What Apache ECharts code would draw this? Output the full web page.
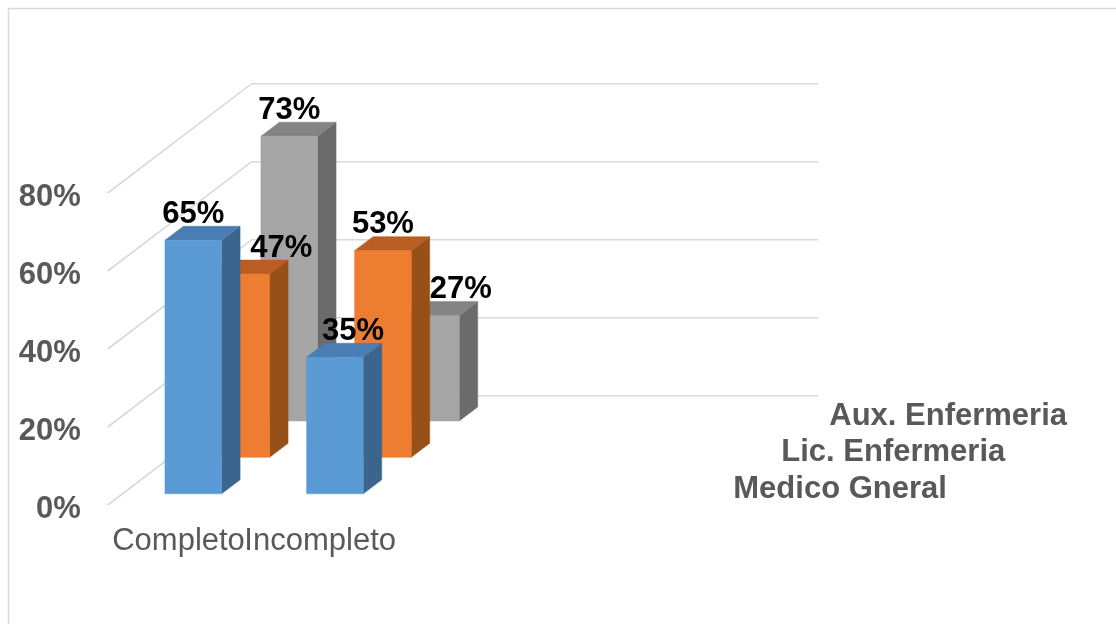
<!DOCTYPE html>
<html><head><meta charset="utf-8">
<script src="https://cdn.jsdelivr.net/npm/echarts@6/dist/echarts.min.js"></script>
<style>html,body{margin:0;padding:0;background:#fff}#c{width:1116px;height:624px}</style>
</head><body><div id="c"></div>
<script>
// ---- data ----
const categories = ['Completo', 'Incompleto', '', ''];
const seriesNames = ['Medico Gneral', 'Lic. Enfermeria', 'Aux. Enfermeria'];
const medicoGneral = [65, 35];
const licEnfermeria = [47, 53];
const auxEnfermeria = [73, 27];
const yTicks = [0, 20, 40, 60, 80];

// ---- layout / style ----
const seriesValues = [medicoGneral, licEnfermeria, auxEnfermeria];
const FONT = '"Liberation Sans", Arial, sans-serif';
const FLOOR_DEPTH = 109.3, SLANT = 1.317, BAR_DEPTH = 0.385, BAR_WIDTH = 0.4;
const COLORS = [
  {front: '#5B9BD5', top: '#4A7DB3', side: '#3B658C'},
  {front: '#ED7D31', top: '#BA5D22', side: '#985019'},
  {front: '#A5A5A5', top: '#848484', side: '#6B6B6B'}
];
const LABEL_NUDGE = {'1-0': 40, '0-1': 18, '2-1': 30};
const slot = FLOOR_DEPTH / 3;
function rowDepth(r) { const d0 = slot * r + slot * (1 - BAR_DEPTH) / 2; return [d0, d0 + slot * BAR_DEPTH]; }
const P = (x, y, d) => [x + d * SLANT, y - d];

function barRender(r) {
  return function (params, api) {
    const cat = api.value(0), v = api.value(1);
    const b = api.coord([cat, 0]), t = api.coord([cat, v]);
    const w = api.size([1, 0])[0] * BAR_WIDTH;
    const [d0, d1] = rowDepth(r);
    const xl = b[0] - w / 2, xr = b[0] + w / 2;
    const c = COLORS[r];
    const front = [P(xl, b[1], d0), P(xr, b[1], d0), P(xr, t[1], d0), P(xl, t[1], d0)];
    const top = [P(xl, t[1], d0), P(xr, t[1], d0), P(xr, t[1], d1), P(xl, t[1], d1)];
    const side = [P(xr, b[1], d0), P(xr, b[1], d1), P(xr, t[1], d1), P(xr, t[1], d0)];
    return {type: 'group', children: [
      {type: 'polygon', shape: {points: side}, style: {fill: c.side, stroke: c.side, lineWidth: 0.5}},
      {type: 'polygon', shape: {points: top}, style: {fill: c.top, stroke: c.top, lineWidth: 0.5}},
      {type: 'polygon', shape: {points: front}, style: {fill: c.front, stroke: c.front, lineWidth: 0.5}}
    ]};
  };
}

const series = [];
// walls (gridlines)
series.push({
  type: 'custom', z: 1, silent: true,
  data: yTicks.map(v => [0, v]),
  renderItem(params, api) {
    const cs = params.coordSys;
    const y = api.coord([0, api.value(1)])[1];
    return {type: 'polyline', shape: {points: [
      [cs.x, y], P(cs.x, y, FLOOR_DEPTH), P(cs.x + cs.width, y, FLOOR_DEPTH)
    ]}, style: {stroke: '#D9D9D9', lineWidth: 1.6, fill: null}};
  }
});
// bars: back row first
for (let r = seriesValues.length - 1; r >= 0; r--) {
  series.push({
    type: 'custom', name: seriesNames[r], z: 2,
    data: seriesValues[r].map((v, i) => [i, v]),
    renderItem: barRender(r)
  });
}
// data labels
const labelData = [];
seriesValues.forEach((arr, r) => arr.forEach((v, i) => labelData.push([i, v, r])));
series.push({
  type: 'custom', z: 5, silent: true,
  data: labelData,
  renderItem(params, api) {
    const cat = api.value(0), v = api.value(1), r = api.value(2);
    const b = api.coord([cat, 0]), t = api.coord([cat, v]);
    const [d0, d1] = rowDepth(r);
    const nudge = LABEL_NUDGE[r + '-' + cat] || 0;
    return {type: 'text', style: {
      text: v + '%', x: b[0] + d0 * SLANT + nudge, y: t[1] - d1 - 12,
      align: 'center', verticalAlign: 'middle',
      font: 'bold 31px ' + FONT, fill: '#000000'
    }};
  }
});
// depth axis labels (series names)
series.push({
  type: 'custom', z: 5, silent: true,
  data: seriesNames.map((n, r) => [0, 0, r]),
  renderItem(params, api) {
    const cs = params.coordSys;
    const r = api.value(2);
    const y0 = api.coord([0, 0])[1];
    const dc = slot * (r + 0.5);
    const p = P(cs.x + cs.width, y0, dc);
    return {type: 'text', style: {
      text: seriesNames[r], x: p[0] + 35, y: p[1] + 2.5,
      align: 'left', verticalAlign: 'middle',
      font: 'bold 31px ' + FONT, fill: '#595959'
    }};
  }
});

const chart = echarts.init(document.getElementById('c'));
chart.setOption({
  animation: false,
  backgroundColor: '#ffffff',
  grid: {left: 107.7, top: 193, width: 566.6, height: 312, containLabel: false},
  xAxis: {
    type: 'category', data: categories,
    axisLine: {show: false}, axisTick: {show: false}, splitLine: {show: false},
    axisLabel: {interval: 0, hideOverlap: false, margin: 21, fontSize: 31, fontFamily: FONT, color: '#595959'}
  },
  yAxis: {
    type: 'value', min: 0, max: 80, interval: 20,
    axisLine: {show: false}, axisTick: {show: false}, splitLine: {show: false},
    axisLabel: {formatter: '{value}%', margin: 27, fontSize: 31, fontWeight: 'bold', fontFamily: FONT, color: '#595959', verticalAlign: 'top', lineHeight: 9}
  },
  graphic: [{
    type: 'rect', z: -10, silent: true,
    shape: {x: 8.5, y: 8.5, width: 1300, height: 800},
    style: {fill: null, stroke: '#D9D9D9', lineWidth: 1.5}
  }],
  series: series
});
</script></body></html>
